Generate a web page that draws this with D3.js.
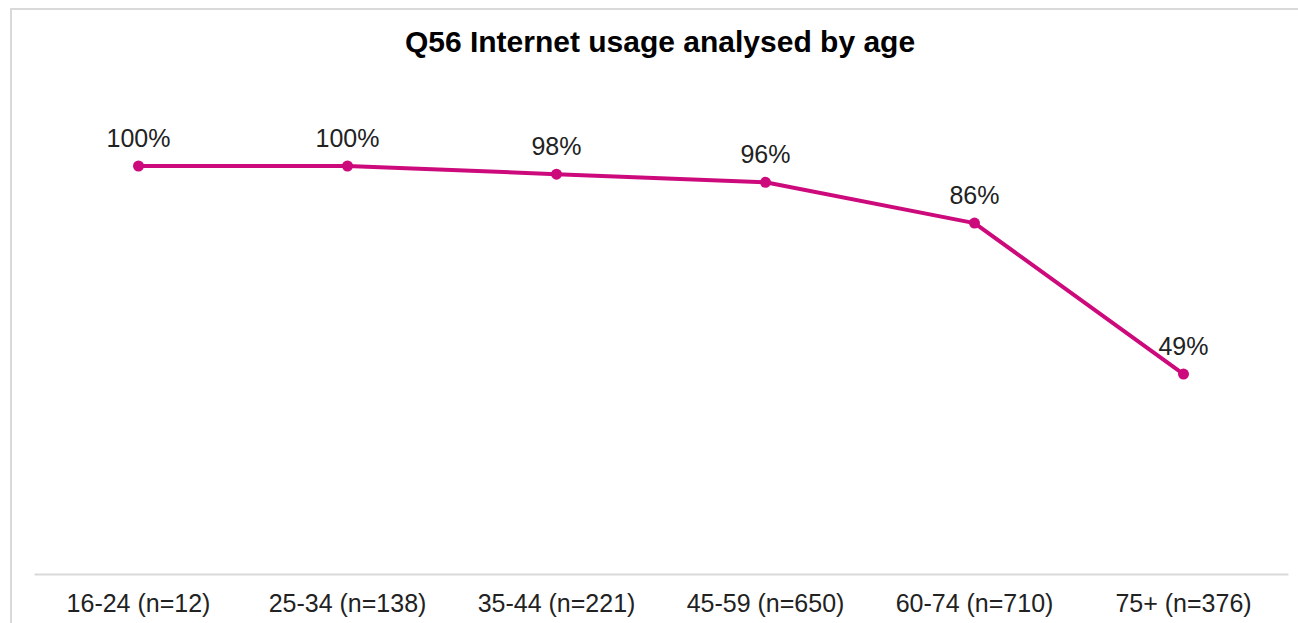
<!DOCTYPE html>
<html>
<head>
<meta charset="utf-8">
<script src="https://cdn.jsdelivr.net/npm/d3@7"></script>
<style>
  html, body { margin: 0; padding: 0; background: #fff; }
  svg { display: block; }
</style>
</head>
<body>
<svg id="chart" width="1298" height="623"></svg>
<script>
// Age bands with sample sizes, and share of respondents using the internet
const categories = ["16-24 (n=12)", "25-34 (n=138)", "35-44 (n=221)", "45-59 (n=650)", "60-74 (n=710)", "75+ (n=376)"];
const usage = [1.00, 1.00, 0.98, 0.96, 0.86, 0.49];
const valueLabels = ["100%", "100%", "98%", "96%", "86%", "49%"];
const chartTitle = "Q56 Internet usage analysed by age";

const svg = d3.select("#chart");
const W = 1298, H = 623;
const font = "Liberation Sans, Arial, sans-serif";
const lineColor = "#CC0A7C";

// Chart frame
svg.append("path")
  .attr("d", `M11,${H} L11,9 L${W},9`)
  .attr("fill", "none")
  .attr("stroke", "#d9d9d9")
  .attr("stroke-width", 2);

// Title
svg.append("text")
  .attr("x", 660).attr("y", 52)
  .attr("text-anchor", "middle")
  .attr("font-family", font)
  .attr("font-weight", "bold")
  .attr("font-size", 30)
  .attr("fill", "#000")
  .text(chartTitle);

const x = d3.scaleBand().domain(categories).range([34, 1288]);
const y = d3.scaleLinear().domain([0, 1.2]).range([574, 574 - 408 * 1.2]);

// Category axis
const axis = svg.append("g")
  .attr("transform", "translate(0,574)")
  .call(d3.axisBottom(x).tickSize(0).tickPadding(0));
axis.select(".domain").attr("stroke", "#d9d9d9").attr("stroke-width", 2);
axis.selectAll("text")
  .attr("font-family", font)
  .attr("font-size", 25)
  .attr("fill", "#222")
  .attr("dy", null)
  .attr("y", 38);

const pts = categories.map((c, i) => ({ c, v: usage[i], label: valueLabels[i] }));
const cx = d => x(d.c) + x.bandwidth() / 2;

svg.append("path")
  .datum(pts)
  .attr("fill", "none")
  .attr("stroke", lineColor)
  .attr("stroke-width", 4)
  .attr("stroke-linejoin", "round")
  .attr("d", d3.line().x(cx).y(d => y(d.v)));

svg.selectAll("circle.pt")
  .data(pts)
  .join("circle")
  .attr("class", "pt")
  .attr("cx", cx)
  .attr("cy", d => y(d.v))
  .attr("r", 5.5)
  .attr("fill", lineColor);

svg.selectAll("text.val")
  .data(pts)
  .join("text")
  .attr("class", "val")
  .attr("x", cx)
  .attr("y", d => y(d.v) - 19)
  .attr("text-anchor", "middle")
  .attr("font-family", font)
  .attr("font-size", 25)
  .attr("fill", "#222")
  .text(d => d.label);
</script>
</body>
</html>
